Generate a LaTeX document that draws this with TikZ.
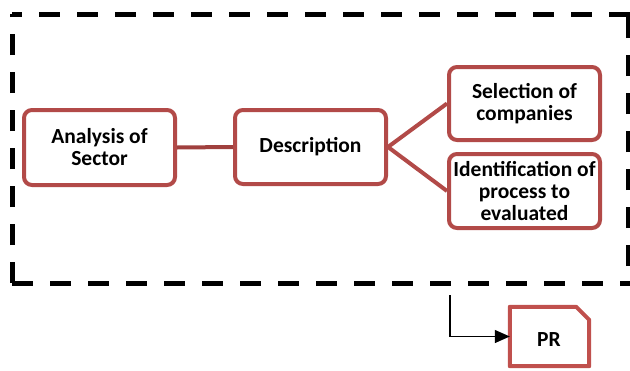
\documentclass[tikz,border=0pt]{standalone}
\usepackage{fontspec}
\setmainfont{Carlito}
\usetikzlibrary{arrows.meta}
\definecolor{boxred}{RGB}{178,74,72}
\definecolor{linkred}{RGB}{160,64,62}
\definecolor{prred}{RGB}{192,80,77}
\tikzset{
  label font/.style={font=\bfseries\fontsize{21.5}{22}\selectfont},
  stage/.style={draw=boxred, line width=4pt, rounded corners=8pt, fill=white,
    inner sep=0pt, align=center, minimum width=151pt, label font},
  link/.style={draw=boxred, line width=4pt},
  frame/.style={line width=5pt, dash pattern=on 21pt off 17pt},
  flow/.style={draw=black, line width=1.3pt, -{Triangle[length=15pt,width=13pt]}}
}
\begin{document}
\begin{tikzpicture}[x=1pt,y=-1pt]
\useasboundingbox (0,0) rectangle (630,370);

% dashed frame, one side at a time
\draw[frame] (12,283) -- (12,14);
\draw[frame, dash phase=11pt] (12,14) -- (632,14);
\draw[frame] (12,283) -- (632,283);
\draw[frame, dash phase=21pt] (628,283) -- (628,14);

% stages
\node[stage, minimum height=75pt] (analysis) at (99.5,147.5) {Analysis of\\Sector};
\node[stage, minimum height=74pt] (descr) at (310.5,147) {Description};
\node[stage, minimum height=73pt] (select) at (524.5,103.5) {Selection of\\companies};
\node[stage, minimum height=74pt] (ident) at (524.5,191) {Identification of\\process to\\evaluated};

% connectors between stages
\draw[link, draw=linkred] (analysis.east) -- (descr.west);
\draw[link] (descr.east) -- (select.west);
\draw[link] (descr.east) -- (ident.west);

% PR sheet with a clipped corner
\node[inner sep=0pt, minimum width=79pt, minimum height=59pt] (pr) at (549.5,336.5) {};
\draw[draw=prred, line width=4pt, line join=round]
  (pr.south west) -- (pr.north west) -- ([xshift=-13pt]pr.north east)
  -- ([yshift=-13pt]pr.north east) -- (pr.south east) -- cycle;
\node[label font] (prtext) at (549,340) {PR};

% output arrow
\coordinate (out) at (450,295);
\draw[flow] (out) |- (pr.west);
\end{tikzpicture}
\end{document}
